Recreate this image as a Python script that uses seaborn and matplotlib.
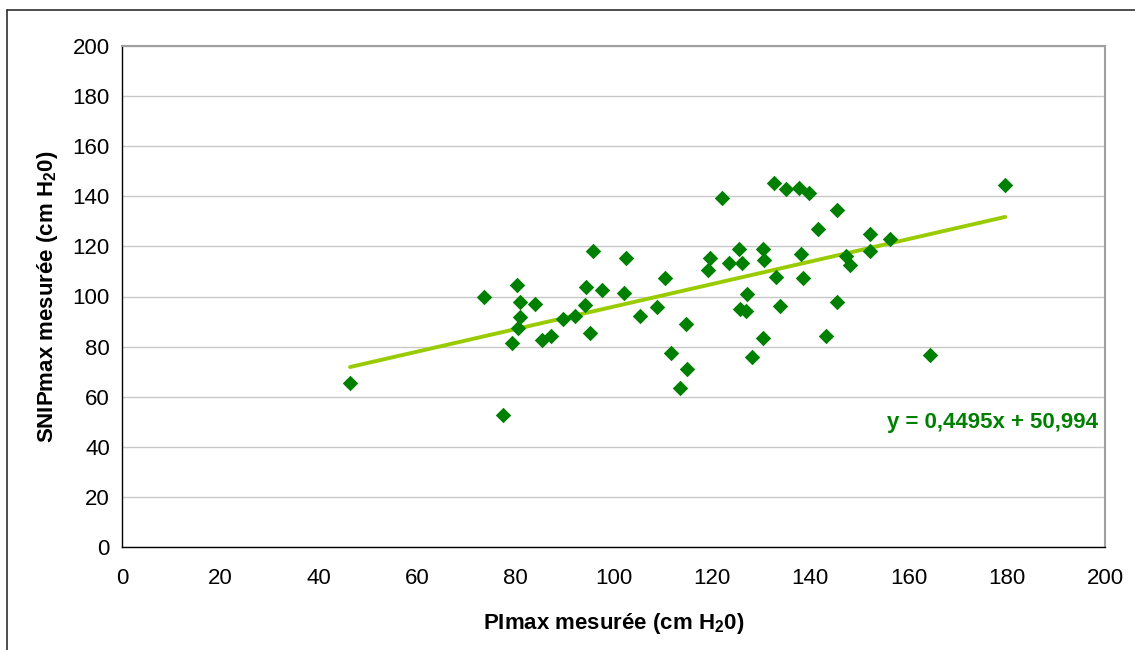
import numpy as np
import pandas as pd
import matplotlib
matplotlib.use("Agg")
import matplotlib.pyplot as plt
import seaborn as sns

# ---- data ----
pimax = [46.4, 73.7, 77.5, 79.3, 80.3, 81.0, 81.0, 80.6, 84.1, 85.5,
         87.3, 89.8, 92.2, 94.5, 94.2, 95.2, 95.8, 97.7, 102.2, 102.5,
         105.3, 108.8, 110.5, 111.6, 113.6, 114.8, 115.0, 119.2, 119.6, 122.0,
         123.4, 125.5, 126.1, 127.2, 125.8, 126.9, 128.2, 130.4, 130.4, 130.6,
         132.7, 133.1, 133.8, 135.1, 137.7, 139.7, 138.2, 138.6, 141.7, 143.2,
         145.5, 145.5, 147.4, 148.1, 152.2, 152.2, 156.3, 164.4, 179.7]
snipmax = [65.6, 99.8, 52.7, 81.4, 104.6, 97.7, 91.8, 87.3, 97.1, 82.6,
           84.1, 90.9, 92.2, 103.9, 96.5, 85.5, 118.2, 102.5, 101.2, 115.5,
           92.3, 95.7, 107.3, 77.4, 63.5, 88.9, 71.1, 110.6, 115.4, 139.2,
           113.4, 118.8, 113.4, 101.1, 95.0, 94.3, 75.8, 83.3, 119.0, 114.6,
           145.3, 107.9, 96.3, 142.8, 143.4, 141.2, 116.8, 107.3, 126.9, 84.1,
           134.4, 97.7, 116.3, 112.6, 125.1, 118.2, 123.1, 76.5, 144.6]
slope = 0.4495
intercept = 50.994
equation_label = "y = 0,4495x + 50,994"
x_ticks = [0, 20, 40, 60, 80, 100, 120, 140, 160, 180, 200]
y_ticks = [0, 20, 40, 60, 80, 100, 120, 140, 160, 180, 200]
x_label = r"PImax mesurée (cm H$_\mathbf{2}$0)"
y_label = r"SNIPmax mesurée (cm H$_\mathbf{2}$0)"

df = pd.DataFrame({"PImax": pimax, "SNIPmax": snipmax})
x_line = np.array([min(pimax), max(pimax)])
trend = pd.DataFrame({"x": x_line, "y": slope * x_line + intercept})

sns.set_theme(style="white")
plt.rcParams["font.family"] = ["Liberation Sans", "DejaVu Sans"]
plt.rcParams["mathtext.fontset"] = "custom"
plt.rcParams["mathtext.rm"] = "Liberation Sans"
plt.rcParams["mathtext.bf"] = "Liberation Sans:bold"
plt.rcParams["text.color"] = "black"
plt.rcParams["axes.labelcolor"] = "black"

fig = plt.figure(figsize=(11.35, 6.5), dpi=100)
ax = fig.add_axes([122 / 1135, 1 - 547 / 650, (1105 - 122) / 1135, (547 - 46) / 650])

ax.set_axisbelow(True)
ax.yaxis.grid(True, color="#C8C8C8", linewidth=1.0)
ax.xaxis.grid(False)

sns.lineplot(data=trend, x="x", y="y", ax=ax, color="#99CC00", linewidth=2.8, zorder=2)
sns.scatterplot(data=df, x="PImax", y="SNIPmax", ax=ax, marker="D", s=62,
                color="#008000", edgecolor="#008000", linewidth=0, zorder=3)

ax.set_xlim(0, 200)
ax.set_ylim(0, 200)
ax.set_xticks(x_ticks)
ax.set_yticks(y_ticks)
ax.tick_params(axis="both", which="major", direction="out", length=3.8, width=1,
               color="black", labelsize=16, labelcolor="black")
ax.tick_params(axis="x", pad=11)
ax.tick_params(axis="y", pad=5)

for side in ["left", "bottom"]:
    ax.spines[side].set_color("black")
    ax.spines[side].set_linewidth(1.0)
for side in ["top", "right"]:
    ax.spines[side].set_color("#A0A0A0")
    ax.spines[side].set_linewidth(1.5)

ax.set_xlabel(x_label, fontsize=16, fontweight="bold", labelpad=16, color="black")
ax.set_ylabel(y_label, fontsize=16, fontweight="bold", labelpad=9, color="black")

ax.text(0.9925, 0.248, equation_label, transform=ax.transAxes, ha="right", va="center",
        fontsize=16, fontweight="bold", color="#008000")

# outer frame (left and top edges)
fig.add_artist(plt.Line2D([7 / 1135, 7 / 1135], [0, 1 - 10 / 650], transform=fig.transFigure,
                          color="#303030", linewidth=1.2))
fig.add_artist(plt.Line2D([7 / 1135, 1], [1 - 10 / 650, 1 - 10 / 650], transform=fig.transFigure,
                          color="#303030", linewidth=1.2))

fig.savefig("out.png", dpi=100, facecolor="white")
